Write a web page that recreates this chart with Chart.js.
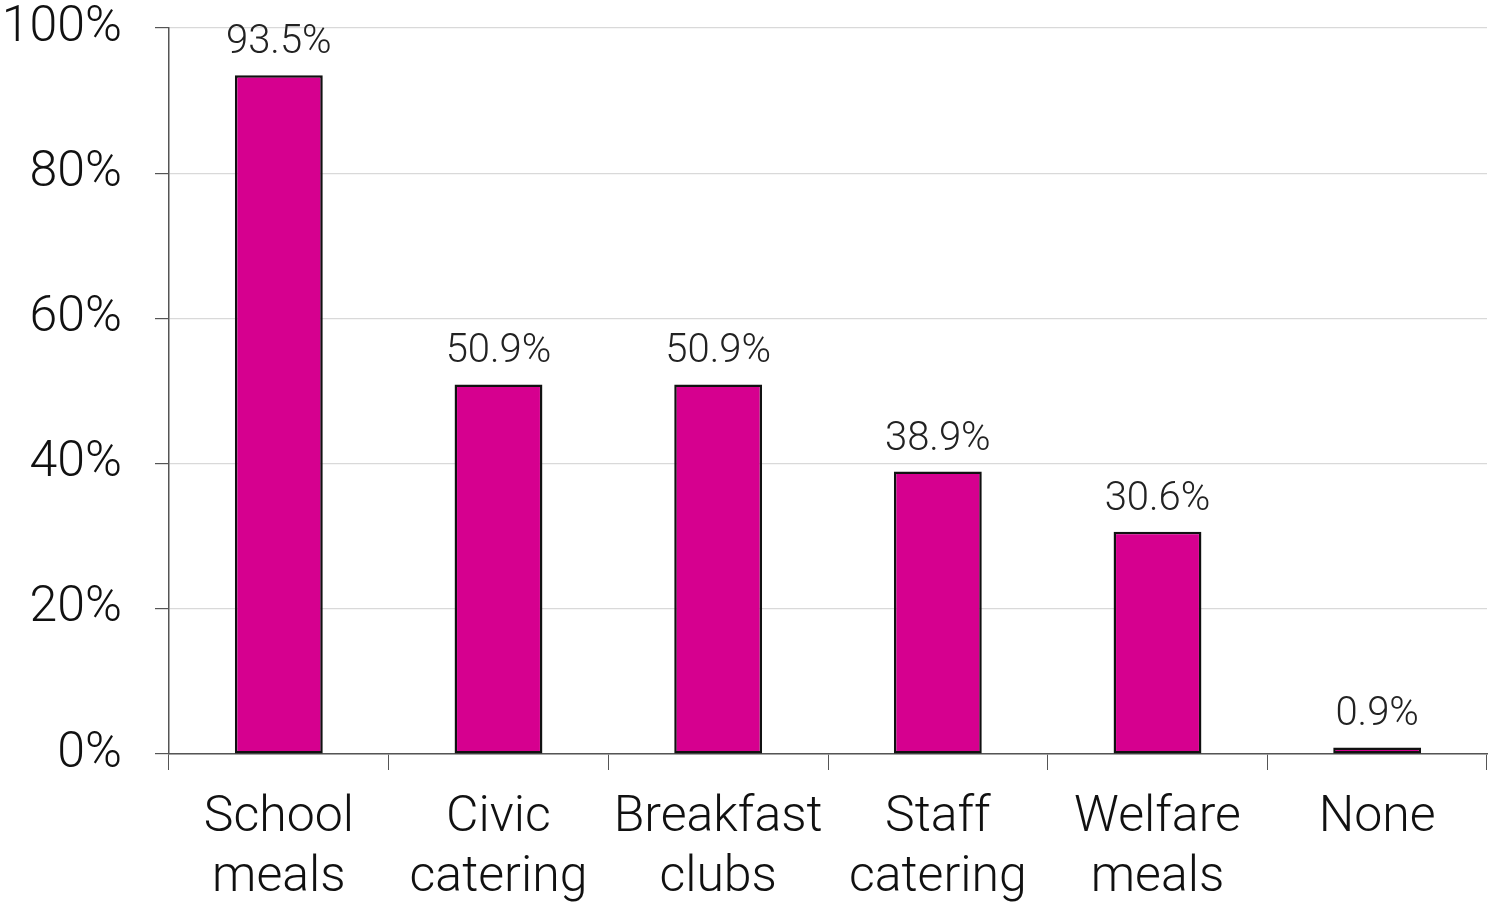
<!DOCTYPE html>
<html>
<head>
<meta charset="utf-8">
<script src="https://cdn.jsdelivr.net/npm/chart.js@4.4.0/dist/chart.umd.min.js"></script>
<style>
  html, body { margin: 0; padding: 0; background: #fff; }
  #wrap { width: 1489px; height: 904px; }
</style>
</head>
<body>
<div id="wrap"><canvas id="mealsChart"></canvas></div>
<script>
// data
const categories = [['School', 'meals'], ['Civic', 'catering'], ['Breakfast', 'clubs'], ['Staff', 'catering'], ['Welfare', 'meals'], ['None']];
const shares = [93.5, 50.9, 50.9, 38.9, 30.6, 0.9];
const yTicks = [0, 20, 40, 60, 80, 100];

const fontFamily = 'Roboto, "Open Sans", sans-serif';

// value labels above bars
const barLabels = {
    id: 'barLabels',
    afterDatasetsDraw(chart) {
        const ctx = chart.ctx;
        const meta = chart.getDatasetMeta(0);
        ctx.save();
        ctx.font = '300 40px ' + fontFamily;
        ctx.fillStyle = '#222';
        ctx.textAlign = 'center';
        ctx.textBaseline = 'alphabetic';
        meta.data.forEach((bar, i) => {
            ctx.fillText(shares[i].toFixed(1) + '%', bar.x, bar.y - 22);
        });
        ctx.restore();
    }
};

Chart.defaults.maintainAspectRatio = false;

const ctx = document.getElementById('mealsChart').getContext('2d');
const mealsChart = new Chart(ctx, {
    type: 'bar',
    data: {
        labels: categories,
        datasets: [{
            data: shares,
            backgroundColor: '#D6008F',
            borderColor: '#111',
            borderWidth: 2.5,
            borderSkipped: false,
            barPercentage: 0.4,
            categoryPercentage: 1.0,
        }]
    },
    options: {
        responsive: true,
        animation: false,
        layout: { padding: { top: 0, right: 2, left: 0, bottom: 0 } },
        plugins: {
            legend: { display: false },
            tooltip: { enabled: false },
        },
        scales: {
            x: {
                grid: {
                    offset: true,
                    drawOnChartArea: false,
                    tickLength: 16,
                    tickColor: '#555',
                },
                border: { color: '#555', width: 1.5 },
                ticks: {
                    color: '#111',
                    font: { family: fontFamily, size: 50, weight: '300', lineHeight: 1.2 },
                    padding: 18,
                    maxRotation: 0,
                    autoSkip: false,
                },
                afterFit(scale) {
                    scale.height = 150;
                    scale.paddingLeft = 0;
                    scale.paddingRight = 0;
                },
            },
            y: {
                min: 0,
                max: 100,
                afterBuildTicks(scale) {
                    scale.ticks = yTicks.map(v => ({ value: v }));
                },
                grid: {
                    color: '#d9d9d9',
                    tickColor: '#555',
                    tickLength: 14,
                    lineWidth: 1.2,
                },
                border: { color: '#555', width: 1.5 },
                ticks: {
                    color: '#111',
                    font: { family: fontFamily, size: 50, weight: '300', lineHeight: 1 },
                    padding: 33,
                    callback: v => v + '%',
                },
                afterFit(scale) {
                    scale.width = 169;
                    scale.paddingTop = 28;
                    scale.paddingBottom = 0;
                },
            }
        }
    },
    plugins: [barLabels]
});
</script>
</body>
</html>
